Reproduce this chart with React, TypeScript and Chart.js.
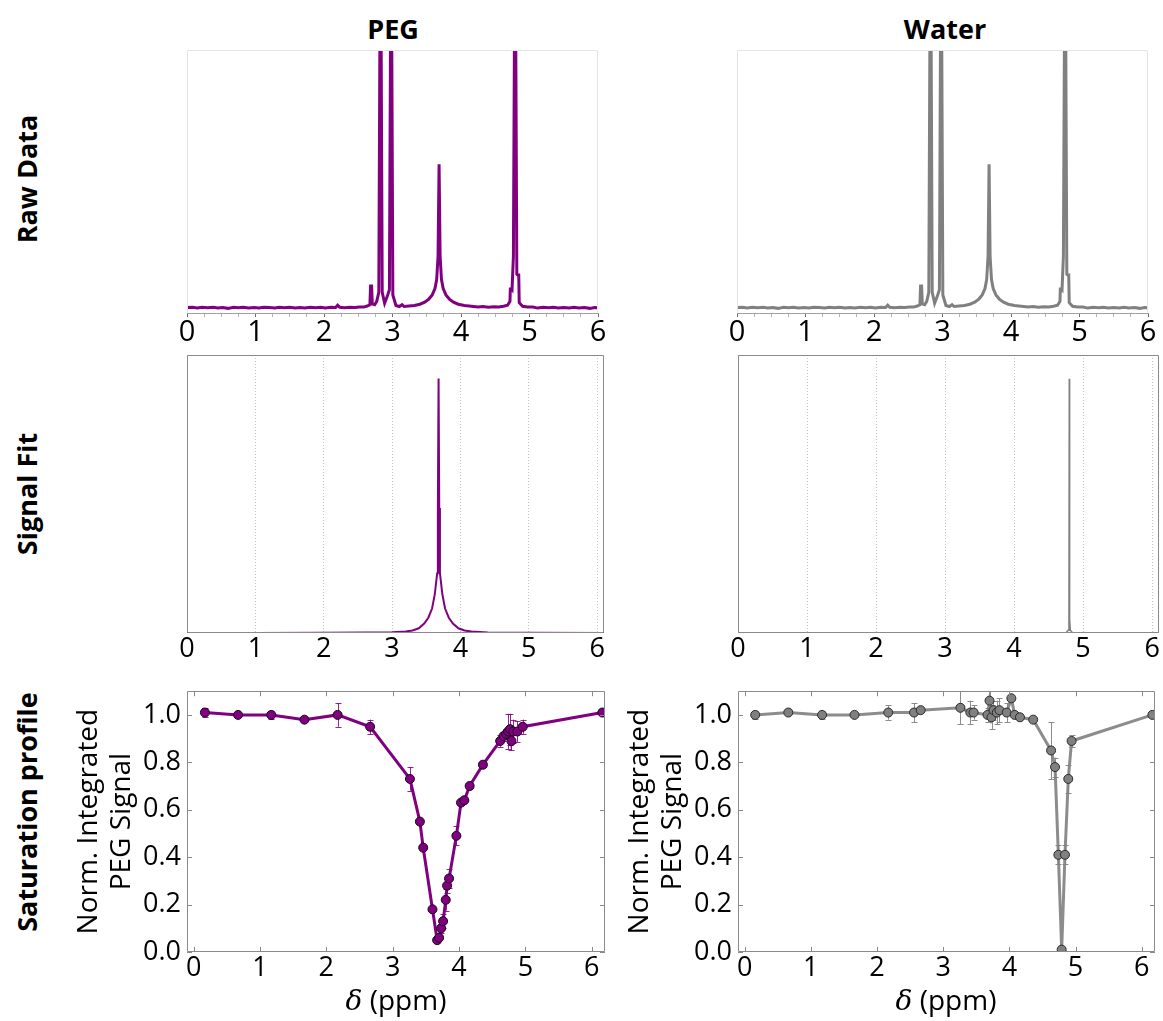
import React, { useEffect, useRef } from 'react';
import { Chart, registerables } from 'chart.js';

Chart.register(...registerables);

const PURPLE = '#800080';
const GREY = '#808080';
const FONT = '"Open Sans", "DejaVu Sans", sans-serif';

// ---------- Raw data (1H spectrum) ----------
const rawShift = [
  0.0, 0.08, 0.15, 0.22, 0.3, 0.38, 0.45, 0.52, 0.6, 0.68, 0.75, 0.82, 0.9, 0.98,
  1.05, 1.12, 1.2, 1.28, 1.35, 1.42, 1.5, 1.58, 1.65, 1.72, 1.8, 1.88, 1.95, 2.02,
  2.1, 2.17, 2.2, 2.23, 2.3, 2.38, 2.45, 2.52, 2.58, 2.63, 2.67, 2.68, 2.695, 2.705,
  2.74, 2.77, 2.8, 2.825, 2.85, 2.885, 2.93, 2.955, 2.98, 3.005, 3.05, 3.1, 3.14, 3.17,
  3.24, 3.32, 3.4, 3.47, 3.53, 3.58, 3.62, 3.645, 3.665, 3.68, 3.695, 3.715, 3.74,
  3.78, 3.83, 3.89, 3.96, 4.05, 4.15, 4.25, 4.32, 4.4, 4.48, 4.55, 4.62, 4.68, 4.715,
  4.72, 4.735, 4.745, 4.765, 4.79, 4.815, 4.83, 4.843, 4.85, 4.9, 4.97, 5.05, 5.12,
  5.2, 5.28, 5.35, 5.42, 5.5, 5.58, 5.65, 5.72, 5.8, 5.88, 5.95, 6.0,
];
const rawIntensity = [
  0.001, 0.002, -0.001, 0.002, 0.0, 0.002, -0.001, 0.001, -0.002, 0.002, 0.0, 0.002, -0.001, 0.001,
  -0.001, 0.002, 0.001, -0.001, 0.002, 0.0, 0.002, -0.001, 0.001, -0.001, 0.002, 0.0, 0.002, -0.001,
  0.002, 0.001, 0.01, 0.002, 0.0, 0.002, 0.001, 0.003, 0.003, 0.007, 0.012, 0.085, 0.085, 0.015,
  0.012, 0.025, 0.06, 1.6, 0.06, 0.018, 0.05, 0.07, 1.6, 0.05, 0.009, 0.005, 0.012, 0.005,
  0.007, 0.009, 0.014, 0.022, 0.034, 0.05, 0.075, 0.11, 0.2, 0.557, 0.2, 0.11, 0.075,
  0.05, 0.034, 0.022, 0.014, 0.009, 0.006, 0.003, 0.005, 0.002, 0.004, 0.003, 0.006, 0.01, 0.025,
  0.073, 0.073, 0.07, 0.2, 1.6, 0.13, 0.127, 0.127, 0.02, 0.006, 0.003, 0.003, -0.001,
  0.002, 0.0, 0.002, -0.001, 0.001, -0.001, 0.002, -0.001, 0.001, -0.002, 0.001, 0.0,
];
const rawTickValues = [
  0, 0.25, 0.5, 0.75, 1, 1.25, 1.5, 1.75, 2, 2.25, 2.5, 2.75, 3, 3.25, 3.5, 3.75,
  4, 4.25, 4.5, 4.75, 5, 5.25, 5.5, 5.75, 6,
];

// ---------- Signal fit ----------
const fitPegShift = [
  0, 1.0, 2.0, 2.6, 3.0, 3.2, 3.3, 3.39, 3.47, 3.53, 3.585, 3.625, 3.66, 3.67, 3.68,
  3.69, 3.7, 3.735, 3.775, 3.83, 3.89, 3.97, 4.06, 4.16, 4.4, 5.0, 6.1,
];
const fitPegIntensity = [
  0.0, 0.0, 0.001, 0.002, 0.003, 0.005, 0.009, 0.017, 0.034, 0.055, 0.088, 0.14, 0.215, 0.45, 0.915,
  0.45, 0.215, 0.14, 0.088, 0.055, 0.034, 0.017, 0.009, 0.005, 0.002, 0.001, 0.0,
];
const fitWaterShift = [0, 4.75, 4.785, 4.795, 4.8, 4.805, 4.815, 4.85, 6.1];
const fitWaterIntensity = [0, 0, 0.01, 0.05, 0.915, 0.05, 0.01, 0, 0];
const fitTickValues = [0, 1, 2, 3, 4, 5, 6];

// ---------- Saturation profile ----------
const satPegShift = [
  0.17, 0.67, 1.17, 1.67, 2.17, 2.66, 3.26, 3.41, 3.46, 3.6, 3.67, 3.7, 3.73, 3.76, 3.8, 3.82,
  3.85, 3.96, 4.03, 4.08, 4.16, 4.36, 4.62, 4.67, 4.71, 4.74, 4.77, 4.79, 4.82, 4.88, 4.96, 6.16,
];
const satPegSignal = [
  1.01, 1.0, 1.0, 0.98, 1.0, 0.95, 0.73, 0.55, 0.44, 0.18, 0.05, 0.06, 0.1, 0.13, 0.22, 0.28,
  0.31, 0.49, 0.63, 0.64, 0.7, 0.79, 0.89, 0.91, 0.92, 0.93, 0.94, 0.89, 0.93, 0.93, 0.95, 1.01,
];
const satPegError = [
  0.018, 0.005, 0.018, 0.008, 0.05, 0.03, 0.05, 0.01, 0.01, 0.01, 0.01, 0.01, 0.02, 0.03, 0.045, 0.03,
  0.04, 0.04, 0.01, 0.01, 0.01, 0.01, 0.025, 0.02, 0.02, 0.075, 0.065, 0.04, 0.05, 0.045, 0.03, 0.005,
];
const satWaterShift = [
  0.16, 0.66, 1.17, 1.66, 2.17, 2.56, 2.66, 3.26, 3.41, 3.46, 3.67, 3.7, 3.73, 3.76, 3.81,
  3.85, 3.96, 4.03, 4.08, 4.16, 4.36, 4.63, 4.69, 4.74, 4.79, 4.84, 4.89, 4.94, 6.16,
];
const satWaterSignal = [
  1.0, 1.01, 1.0, 1.0, 1.01, 1.01, 1.02, 1.03, 1.01, 1.01, 1.0, 1.06, 0.99, 1.02, 1.01,
  1.02, 1.01, 1.07, 1.0, 0.99, 0.98, 0.85, 0.78, 0.41, 0.01, 0.41, 0.73, 0.89, 1.0,
];
const satWaterError = [
  0.018, 0.005, 0.018, 0.005, 0.03, 0.04, 0.005, 0.07, 0.05, 0.03, 0.03, 0.05, 0.05, 0.04, 0.05,
  0.05, 0.04, 0.01, 0.005, 0.005, 0.005, 0.12, 0.04, 0.04, 0.01, 0.04, 0.06, 0.025, 0.005,
];
const satXTicks = [0, 1, 2, 3, 4, 5, 6];
const satYTicks = [0, 0.2, 0.4, 0.6, 0.8, 1.0];

const columnTitles = ['PEG', 'Water'];
const rowTitles = ['Raw Data', 'Signal Fit', 'Saturation profile'];
const yTitleLines = ['Norm. Integrated', 'PEG Signal'];

// ---------- helpers ----------
const toPoints = (xs: number[], ys: number[]) => xs.map((x, i) => ({ x, y: ys[i] }));

type Sides = { top: string; right: string; bottom: string; left: string };

const framePlugin = (sides: Sides) => ({
  id: 'frame',
  afterDatasetsDraw(chart: any) {
    const { ctx, chartArea: a } = chart;
    const L = Math.round(a.left) + 0.5;
    const R = Math.round(a.right) - 0.5;
    const T = Math.round(a.top) + 0.5;
    const B = Math.round(a.bottom) - 0.5;
    ctx.save();
    ctx.lineWidth = 1;
    const seg = (c: string, x1: number, y1: number, x2: number, y2: number) => {
      if (!c) return;
      ctx.strokeStyle = c;
      ctx.beginPath();
      ctx.moveTo(x1, y1);
      ctx.lineTo(x2, y2);
      ctx.stroke();
    };
    seg(sides.top, L, T, R, T);
    seg(sides.right, R, T, R, B);
    seg(sides.bottom, L, B, R, B);
    seg(sides.left, L, T, L, B);
    ctx.restore();
  },
});

const inwardTicksPlugin = (xVals: number[], yVals: number[], color: string) => ({
  id: 'inwardTicks',
  afterDatasetsDraw(chart: any) {
    const { ctx, chartArea: a, scales } = chart;
    const len = 5;
    ctx.save();
    ctx.strokeStyle = color;
    ctx.lineWidth = 1;
    ctx.beginPath();
    xVals.forEach((v) => {
      const px = Math.round(scales.x.getPixelForValue(v)) + 0.5;
      ctx.moveTo(px, a.bottom);
      ctx.lineTo(px, a.bottom - len);
      ctx.moveTo(px, a.top);
      ctx.lineTo(px, a.top + len);
    });
    yVals.forEach((v) => {
      const py = Math.round(scales.y.getPixelForValue(v)) + 0.5;
      ctx.moveTo(a.left, py);
      ctx.lineTo(a.left + len, py);
      ctx.moveTo(a.right, py);
      ctx.lineTo(a.right - len, py);
    });
    ctx.stroke();
    ctx.restore();
  },
});

const errorBarPlugin = (errors: number[], color: string) => ({
  id: 'errorBars',
  beforeDatasetsDraw(chart: any) {
    const { ctx, chartArea: a, scales } = chart;
    const pts = chart.data.datasets[0].data as { x: number; y: number }[];
    ctx.save();
    ctx.beginPath();
    ctx.rect(a.left, a.top, a.right - a.left, a.bottom - a.top);
    ctx.clip();
    ctx.strokeStyle = color;
    ctx.lineWidth = 1;
    ctx.beginPath();
    pts.forEach((p, i) => {
      const e = errors[i];
      if (!e) return;
      const px = Math.round(scales.x.getPixelForValue(p.x)) + 0.5;
      const y1 = scales.y.getPixelForValue(p.y + e);
      const y2 = scales.y.getPixelForValue(p.y - e);
      ctx.moveTo(px, y1);
      ctx.lineTo(px, y2);
      ctx.moveTo(px - 3, Math.round(y1) + 0.5);
      ctx.lineTo(px + 3, Math.round(y1) + 0.5);
      ctx.moveTo(px - 3, Math.round(y2) + 0.5);
      ctx.lineTo(px + 3, Math.round(y2) + 0.5);
    });
    ctx.stroke();
    ctx.restore();
  },
});

const baseOptions = () => ({
  animation: false as const,
  responsive: false,
  maintainAspectRatio: false,
  events: [] as any[],
  plugins: { legend: { display: false }, tooltip: { enabled: false } },
});

// ---------- chart configs ----------
const rawConfig = (color: string, padRight: number) => ({
  type: 'line' as const,
  data: {
    datasets: [
      {
        data: toPoints(rawShift, rawIntensity),
        borderColor: color,
        borderWidth: 3,
        pointRadius: 0,
        tension: 0,
        fill: false,
      },
    ],
  },
  options: {
    ...baseOptions(),
    layout: { padding: { left: 20, right: padRight, top: 4, bottom: 0 } },
    scales: {
      x: {
        type: 'linear' as const,
        min: 0,
        max: 6,
        afterBuildTicks: (s: any) => {
          s.ticks = rawTickValues.map((value) => ({ value }));
        },
        afterFit: (s: any) => {
          s.height = 44;
        },
        ticks: {
          autoSkip: false,
          maxRotation: 0,
          padding: -2,
          color: '#000',
          font: { family: FONT, size: 29 },
          callback: (v: any) => (Number.isInteger(v) ? String(v) : ''),
        },
        grid: {
          drawOnChartArea: false,
          drawTicks: true,
          tickLength: 4,
          tickWidth: 1,
          tickColor: (c: any) => (c.tick && Number.isInteger(c.tick.value) ? '#6a6a6a' : '#b4b4b4'),
        },
        border: { display: true, color: '#a0a0a0', width: 1 },
      },
      y: { display: false, min: -0.02, max: 1.0 },
    },
  },
  plugins: [framePlugin({ top: '#e4e4e4', right: '#e4e4e4', bottom: '', left: '#e4e4e4' })],
});

const fitConfig = (xs: number[], ys: number[], color: string, width: number, padRight: number) => ({
  type: 'line' as const,
  data: {
    datasets: [
      {
        data: toPoints(xs, ys),
        borderColor: color,
        borderWidth: width,
        pointRadius: 0,
        tension: 0,
        fill: false,
      },
    ],
  },
  options: {
    ...baseOptions(),
    layout: { padding: { left: 20, right: padRight, top: 4, bottom: 0 } },
    scales: {
      x: {
        type: 'linear' as const,
        min: 0,
        max: 6.1,
        afterBuildTicks: (s: any) => {
          s.ticks = fitTickValues.map((value) => ({ value }));
        },
        afterFit: (s: any) => {
          s.height = 40;
        },
        ticks: {
          autoSkip: false,
          maxRotation: 0,
          padding: 0,
          color: '#000',
          font: { family: FONT, size: 27 },
          callback: (v: any) => String(v),
        },
        grid: { drawOnChartArea: true, drawTicks: false, color: '#c4c4c4', lineWidth: 1 },
        border: { display: false, dash: [1, 2] },
      },
      y: { display: false, min: 0, max: 1.0 },
    },
  },
  plugins: [framePlugin({ top: '#8a8a8a', right: '#8a8a8a', bottom: '#8a8a8a', left: '#8a8a8a' })],
});

const satConfig = (
  xs: number[],
  ys: number[],
  errs: number[],
  lineColor: string,
  fillColor: string,
  edgeColor: string,
  errColor: string,
  padRight: number
) => ({
  type: 'line' as const,
  data: {
    datasets: [
      {
        data: toPoints(xs, ys),
        borderColor: lineColor,
        borderWidth: 3,
        pointRadius: 4.5,
        pointBackgroundColor: fillColor,
        pointBorderColor: edgeColor,
        pointBorderWidth: 1,
        tension: 0,
        fill: false,
      },
    ],
  },
  options: {
    ...baseOptions(),
    layout: { padding: { left: 0, right: padRight, top: 4, bottom: 0 } },
    scales: {
      x: {
        type: 'linear' as const,
        min: -0.1,
        max: 6.2,
        afterBuildTicks: (s: any) => {
          s.ticks = satXTicks.map((value) => ({ value }));
        },
        afterFit: (s: any) => {
          s.height = 40;
        },
        ticks: {
          autoSkip: false,
          maxRotation: 0,
          padding: 0,
          color: '#000',
          font: { family: FONT, size: 27 },
          callback: (v: any) => String(v),
        },
        grid: { display: false, drawTicks: false },
        border: { display: false },
      },
      y: {
        type: 'linear' as const,
        min: 0,
        max: 1.1,
        afterBuildTicks: (s: any) => {
          s.ticks = satYTicks.map((value) => ({ value }));
        },
        afterFit: (s: any) => {
          s.width = 127;
        },
        ticks: {
          autoSkip: false,
          padding: 6,
          color: '#000',
          font: { family: FONT, size: 27 },
          callback: (v: any) => Number(v).toFixed(1),
        },
        grid: { display: false, drawTicks: false },
        border: { display: false },
        title: {
          display: true,
          text: yTitleLines,
          color: '#000',
          font: { family: FONT, size: 28, lineHeight: 1.2 },
          padding: { top: 12, bottom: 0 },
        },
      },
    },
  },
  plugins: [
    errorBarPlugin(errs, errColor),
    framePlugin({ top: '#8a8a8a', right: '#8a8a8a', bottom: '#8a8a8a', left: '#8a8a8a' }),
    inwardTicksPlugin(satXTicks, satYTicks, '#8a8a8a'),
  ],
});

// ---------- components ----------
function Panel(props: { left: number; top: number; width: number; height: number; make: () => any }) {
  const ref = useRef<HTMLCanvasElement>(null);
  useEffect(() => {
    if (!ref.current) return;
    const chart = new Chart(ref.current, props.make());
    return () => chart.destroy();
  }, []);
  return (
    <canvas
      ref={ref}
      width={props.width}
      height={props.height}
      style={{ position: 'absolute', left: props.left, top: props.top, width: props.width, height: props.height, display: 'block' }}
    />
  );
}

const labelStyle = (cx: number, cy: number, rotate: boolean, extra: any = {}) => ({
  position: 'absolute' as const,
  left: cx,
  top: cy,
  transform: `translate(-50%, -50%)${rotate ? ' rotate(-90deg)' : ''}`,
  whiteSpace: 'nowrap' as const,
  lineHeight: 1,
  color: '#000',
  ...extra,
});

export default function App() {
  const bold = { fontFamily: FONT, fontWeight: 700, fontSize: 27 };
  const xTitle = (cx: number) => (
    <div style={labelStyle(cx, 1000, false, { fontFamily: FONT, fontSize: 28 })}>
      <span style={{ fontFamily: '"DejaVu Serif", serif', fontStyle: 'italic' }}>δ</span> (ppm)
    </div>
  );
  return (
    <div style={{ position: 'absolute', left: 0, top: 0, width: 1163, height: 1021, overflow: 'hidden', background: '#fff' }}>
      <div style={labelStyle(393, 28, false, bold)}>{columnTitles[0]}</div>
      <div style={labelStyle(945, 28, false, bold)}>{columnTitles[1]}</div>
      <div style={labelStyle(26, 179, true, bold)}>{rowTitles[0]}</div>
      <div style={labelStyle(26, 494, true, bold)}>{rowTitles[1]}</div>
      <div style={labelStyle(26, 812, true, bold)}>{rowTitles[2]}</div>

      <Panel left={167} top={46} width={451} height={311} make={() => rawConfig(PURPLE, 20)} />
      <Panel left={717} top={46} width={445} height={311} make={() => rawConfig(GREY, 14)} />

      <Panel left={167} top={351} width={457} height={322} make={() => fitConfig(fitPegShift, fitPegIntensity, PURPLE, 2, 20)} />
      <Panel left={718} top={351} width={445} height={322} make={() => fitConfig(fitWaterShift, fitWaterIntensity, GREY, 1.5, 4)} />

      <Panel
        left={60}
        top={669}
        width={559}
        height={323}
        make={() => satConfig(satPegShift, satPegSignal, satPegError, PURPLE, PURPLE, '#1a001a', 'rgba(128,0,128,0.85)', 14)}
      />
      <Panel
        left={611}
        top={669}
        width={552}
        height={323}
        make={() => satConfig(satWaterShift, satWaterSignal, satWaterError, 'rgba(128,128,128,0.9)', GREY, '#2a2a2a', '#8c8c8c', 8)}
      />

      {xTitle(396)}
      {xTitle(946)}
    </div>
  );
}
